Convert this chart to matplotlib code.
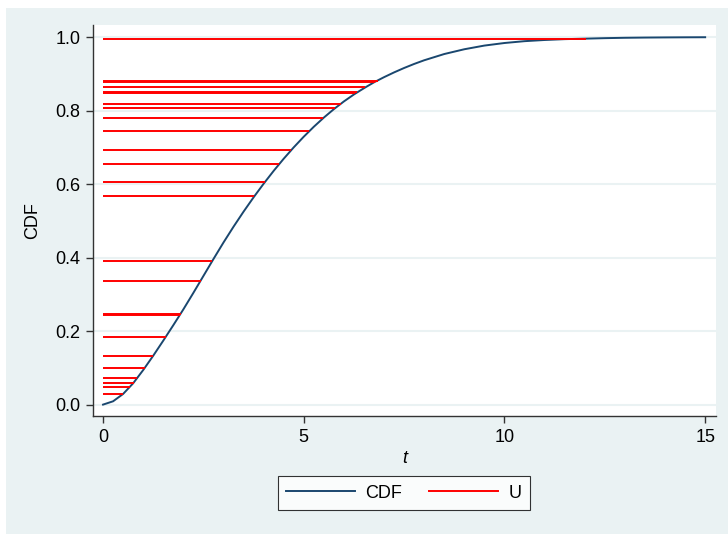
import numpy as np
import matplotlib
matplotlib.use("Agg")
import matplotlib.pyplot as plt

# CDF curve, values
t = [0, 0.25, 0.5, 0.75, 1.0, 1.25, 1.5, 1.75, 2.0, 2.25, 2.5, 2.75, 3.0,
     3.25, 3.5, 3.75, 4.0, 4.25, 4.5, 4.75, 5.0, 5.25, 5.5, 5.75, 6.0,
     6.25, 6.5, 6.75, 7.0, 7.25, 7.5, 7.75, 8.0, 8.5, 9.0, 9.5, 10.0,
     10.5, 11.0, 11.5, 12.0, 12.5, 13.0, 13.5, 14.0, 14.5, 15.0]
cdf = [0.0, 0.009, 0.029, 0.058, 0.094, 0.133, 0.174, 0.216, 0.259, 0.304,
       0.350, 0.396, 0.441, 0.484, 0.525, 0.564, 0.601, 0.636, 0.669, 0.700,
       0.729, 0.756, 0.781, 0.804, 0.825, 0.844, 0.861, 0.877, 0.891, 0.904,
       0.916, 0.927, 0.937, 0.954, 0.967, 0.977, 0.984, 0.989, 0.9922,
       0.9945, 0.9958, 0.9972, 0.9982, 0.9988, 0.9992, 0.9995, 0.9997]

# uniform draws U (horizontal red lines)
u = [0.9959, 0.8819, 0.8778, 0.8634, 0.8498, 0.8466, 0.8189, 0.8064,
     0.7793, 0.7440, 0.6924, 0.6552, 0.6063, 0.5664, 0.3913, 0.3375,
     0.2479, 0.2438, 0.1846, 0.1330, 0.0994, 0.0722, 0.0597, 0.0489,
     0.0299]

bg = "#eaf2f3"
navy = "#1a476f"
red = "#ff0000"
fs = 13

plt.rcParams['font.family'] = ['Liberation Sans', 'DejaVu Sans']

fig = plt.figure(figsize=(7.28, 5.34), dpi=100, facecolor="white")
# light grey graph region
fig.patches.append(plt.Rectangle((6/728, 0), 1, 1 - 8/534, transform=fig.transFigure,
                                 facecolor=bg, edgecolor="none", zorder=-10))

ax = fig.add_axes([93/728, 1 - 416/534, 623/728, 391/534])
ax.set_facecolor("white")

ax.plot(t, cdf, color=navy, lw=1.4, label="CDF", zorder=3)
t_end = np.interp(u, cdf, t)
ax.hlines(u, 0, t_end, color=red, lw=1.4, zorder=4)
ax.plot([], [], color=red, lw=1.4, label="U")

ax.set_xlim(-0.25, 15.27)
ax.set_ylim(-0.031, 1.033)
ax.set_xticks([0, 5, 10, 15])
ax.set_yticks([0, 0.2, 0.4, 0.6, 0.8, 1.0])
ax.set_yticklabels(["0.0", "0.2", "0.4", "0.6", "0.8", "1.0"])
ax.grid(axis="y", color=bg, lw=1.5, zorder=0)
ax.set_axisbelow(True)

for s in ["top", "right"]:
    ax.spines[s].set_visible(False)
for s in ["left", "bottom"]:
    ax.spines[s].set_color("#333333")
    ax.spines[s].set_linewidth(1.0)
ax.tick_params(axis="both", length=5, width=1.0, color="#333333",
               labelsize=fs, pad=4)

ax.set_xlabel("t", fontsize=fs, style="italic")
ax.set_ylabel("CDF", fontsize=fs)
ax.xaxis.set_label_coords(0.5, -0.086)
ax.yaxis.set_label_coords(-0.084, 0.5)

leg = fig.legend(loc="center", bbox_to_anchor=(404/728, 1 - 493/534), ncol=2,
                 fontsize=fs, frameon=True, fancybox=False, handlelength=3.8,
                 handletextpad=0.6, columnspacing=1.5, borderpad=0.45)
leg.get_frame().set_edgecolor("black")
leg.get_frame().set_linewidth(0.8)

fig.savefig("out.png", dpi=100, facecolor=fig.get_facecolor())
